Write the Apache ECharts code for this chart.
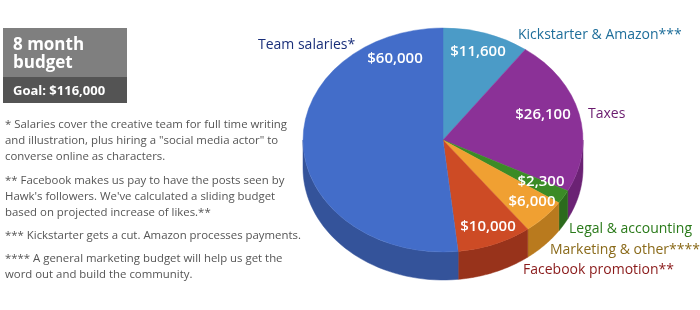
<!DOCTYPE html>
<html><head><meta charset="utf-8">
<script src="https://cdn.jsdelivr.net/npm/echarts@6/dist/echarts.min.js"></script>
<style>html,body{margin:0;padding:0;background:#fff}#c{width:700px;height:310px}</style>
</head><body><div id="c"></div>
<script>
// ---- data ----
const categories = ['Kickstarter & Amazon***', 'Taxes', 'Legal & accounting', 'Marketing & other****', 'Facebook promotion**', 'Team salaries*'];
const values = [11600, 26100, 2300, 6000, 10000, 60000];
const titleLines = ['8 month', 'budget'];
const goalText = 'Goal: $116,000';
const footnotes = [
  '* Salaries cover the creative team for full time writing\nand illustration, plus hiring a "social media actor" to\nconverse online as characters.',
  '** Facebook makes us pay to have the posts seen by\nHawk\'s followers. We\'ve calculated a sliding budget\nbased on projected increase of likes.**',
  '*** Kickstarter gets a cut. Amazon processes payments.',
  '**** A general marketing budget will help us get the\nword out and build the community.'
];

// ---- styles / layout ----
const topColors = ['#4b9bc7', '#8b3197', '#3b8b26', '#f0a032', '#cd4b25', '#436dc9'];
const sideColors = ['#3a7aa0', '#6b2274', '#2c6a1d', '#b97a1e', '#98331b', '#34539a'];
const nameColors = ['#1e6e9a', '#6a1a6e', '#2a7a1a', '#8a6a1a', '#8a1a1a', '#1a2f7a'];
const geo = {cx: 443, cy: 140, rx: 140, ry: 112, depth: 28};
const valuePos = [[478, 52], [543, 115], [541, 182], [532, 202], [488, 227], [395, 59]];
const namePos = [[518, 35], [588, 114], [569, 229], [550, 250], [523, 270], [258, 45]];
const footTops = [117, 173, 228, 251];

const total = values.reduce((a, b) => a + b, 0);
const starts = [];
let acc = 0;
values.forEach(v => { starts.push(acc); acc += v; });
const fmt = v => '$' + v.toLocaleString('en-US');

function renderItem(params, api) {
  const i = params.dataIndex;
  const v = api.value(1);
  const a0 = -Math.PI / 2 + starts[i] / total * 2 * Math.PI;
  const a1 = a0 + v / total * 2 * Math.PI;
  const children = [];
  // side face (front half only)
  const s0 = Math.max(a0, 0), s1 = Math.min(a1, Math.PI);
  if (s1 > s0) {
    const pts = [];
    const n = 40;
    for (let k = 0; k <= n; k++) {
      const t = s0 + (s1 - s0) * k / n;
      pts.push([geo.cx + geo.rx * Math.cos(t), geo.cy + geo.ry * Math.sin(t)]);
    }
    for (let k = n; k >= 0; k--) {
      const t = s0 + (s1 - s0) * k / n;
      pts.push([geo.cx + geo.rx * Math.cos(t), geo.cy + geo.ry * Math.sin(t) + geo.depth]);
    }
    children.push({type: 'polygon', shape: {points: pts}, style: {fill: sideColors[i], stroke: sideColors[i], lineWidth: 0.5}, z2: 1});
  }
  // top face
  children.push({
    type: 'sector', x: geo.cx, y: geo.cy, scaleY: geo.ry / geo.rx,
    shape: {cx: 0, cy: 0, r0: 0, r: geo.rx, startAngle: a0, endAngle: a1, clockwise: true},
    style: {fill: topColors[i], stroke: topColors[i], lineWidth: 0.5}, z2: 2
  });
  // value label
  children.push({
    type: 'text', x: valuePos[i][0], y: valuePos[i][1], z2: 10,
    style: {text: fmt(v), fill: '#fff', font: '600 15px "Open Sans"', align: 'center', verticalAlign: 'middle',
      shadowBlur: 3, shadowColor: 'rgba(0,0,0,0.7)', shadowOffsetX: 1, shadowOffsetY: 1}
  });
  // name label
  children.push({
    type: 'text', x: namePos[i][0], y: namePos[i][1], z2: 10,
    style: {text: categories[i], fill: nameColors[i], font: '14px "Open Sans"', align: 'left', verticalAlign: 'middle'}
  });
  return {type: 'group', children: children};
}

const graphics = [
  {type: 'rect', shape: {x: 3, y: 28, width: 124, height: 49}, style: {fill: '#7f7f7f'}},
  {type: 'rect', shape: {x: 3, y: 77, width: 124, height: 26}, style: {fill: '#545454'}},
  {type: 'text', x: 13, y: 45, style: {text: titleLines[0], fill: '#fff', font: 'bold 17px "Open Sans"', verticalAlign: 'middle'}},
  {type: 'text', x: 13, y: 63, style: {text: titleLines[1], fill: '#fff', font: 'bold 17px "Open Sans"', verticalAlign: 'middle'}},
  {type: 'text', x: 13, y: 91, style: {text: goalText, fill: '#fff', font: 'bold 13px "Open Sans"', verticalAlign: 'middle'}}
];
footnotes.forEach((t, k) => {
  graphics.push({type: 'text', x: 5, y: footTops[k], style: {text: t, fill: '#555', font: '11.4px "Open Sans"', lineHeight: 16, verticalAlign: 'top'}});
});

const chart = echarts.init(document.getElementById('c'), null, {renderer: 'canvas'});
chart.setOption({
  animation: false,
  backgroundColor: '#fff',
  graphic: graphics,
  series: [{
    type: 'custom',
    coordinateSystem: 'none',
    renderItem: renderItem,
    data: values.map((v, i) => [i, v])
  }]
});
</script>
</body></html>
